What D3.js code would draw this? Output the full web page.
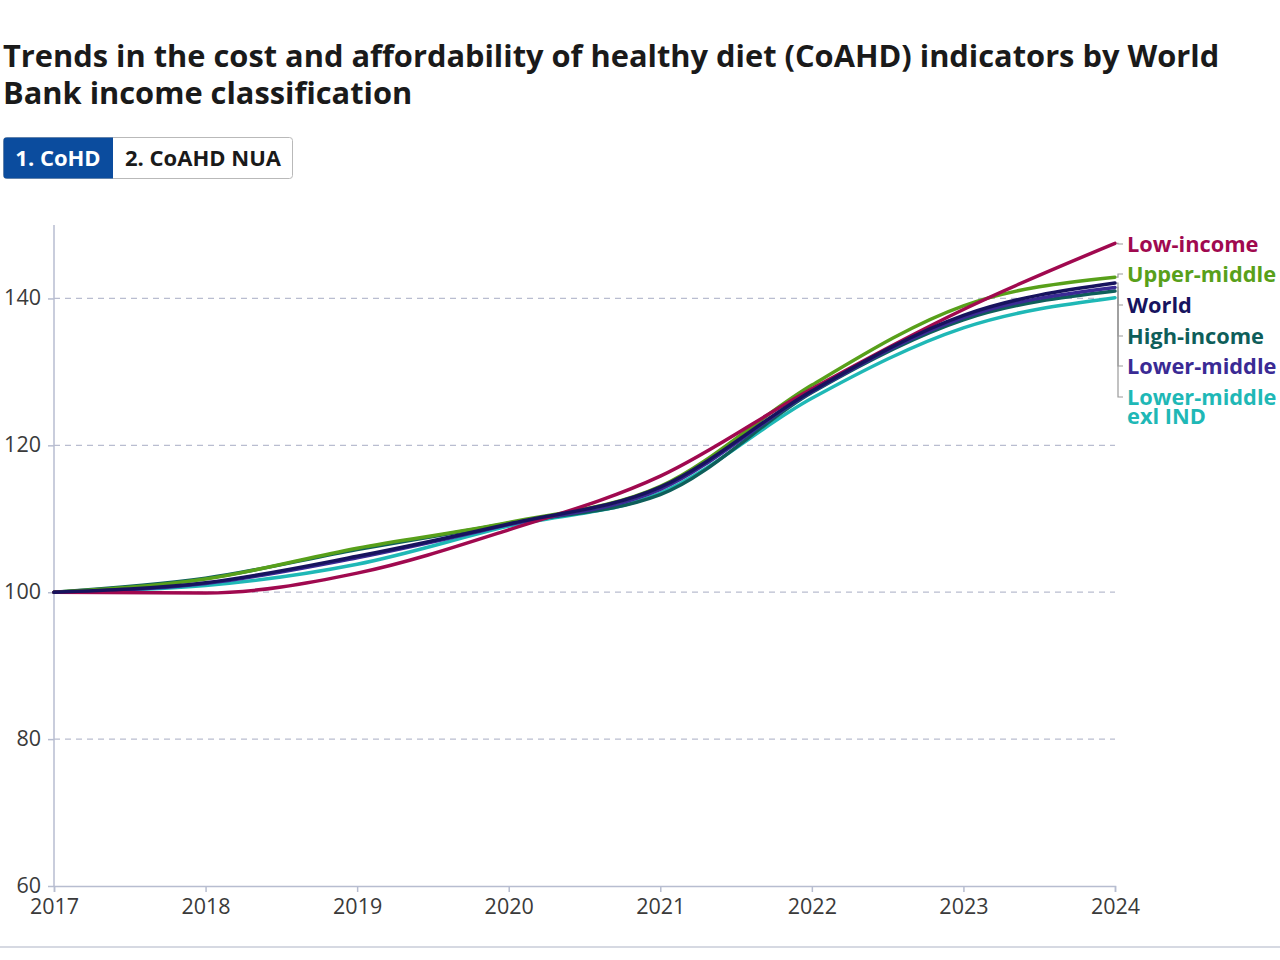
<!DOCTYPE html>
<html>
<head>
<meta charset="utf-8">
<script src="https://cdn.jsdelivr.net/npm/d3@7"></script>
<style>
  body { margin: 0; background: #fff; font-family: "Open Sans", sans-serif; }
</style>
</head>
<body>
<div id="chart"></div>
<script>
// data
const years = [2017, 2018, 2019, 2020, 2021, 2022, 2023, 2024];
const lowIncome      = [100, 99.9, 102.6, 108.5, 115.8, 127.7, 138.5, 147.5];
const upperMiddle    = [100, 101.8, 106.0, 109.5, 114.4, 128.2, 139.0, 142.9];
const world          = [100, 101.3, 104.9, 109.3, 114.3, 127.4, 137.7, 142.1];
const highIncome     = [100, 101.9, 105.8, 109.4, 113.3, 127.2, 137.1, 141.0];
const lowerMiddle    = [100, 101.2, 104.7, 109.2, 114.0, 127.3, 137.4, 141.5];
const lowerMiddleExl = [100, 100.9, 103.8, 109.0, 113.5, 126.4, 136.0, 140.1];
const yTicks = [60, 80, 100, 120, 140];
const buttonLabels = ["1. CoHD", "2. CoAHD NUA"];

const series = [
  { name: ["Lower-middle", "exl IND"], values: lowerMiddleExl, color: "#1fb8b6", labelY: 397 },
  { name: ["High-income"], values: highIncome, color: "#0e5e5a", labelY: 336 },
  { name: ["Lower-middle"], values: lowerMiddle, color: "#3a2a94", labelY: 366 },
  { name: ["Upper-middle"], values: upperMiddle, color: "#58a01a", labelY: 274 },
  { name: ["Low-income"], values: lowIncome, color: "#a0094f", labelY: 244 },
  { name: ["World"], values: world, color: "#17135e", labelY: 305 }
];

const width = 1280, height = 960;
const margin = { left: 54, right: 165, top: 225, bottom: 74 };

const svg = d3.select("#chart").append("svg")
  .attr("width", width).attr("height", height);

// title
const title = svg.append("text")
  .attr("x", 3).attr("y", 67)
  .attr("font-size", 30.8).attr("font-weight", 700).attr("fill", "#1a1a1a");
title.append("tspan").attr("x", 3).text("Trends in the cost and affordability of healthy diet (CoAHD) indicators by World");
title.append("tspan").attr("x", 3).attr("dy", 37).text("Bank income classification");

// toggle buttons
const btnG = svg.append("g").attr("transform", "translate(3,137)");
btnG.append("rect").attr("x", 0.5).attr("y", 0.5).attr("width", 289).attr("height", 41)
  .attr("rx", 3).attr("fill", "#fff").attr("stroke", "#b9b9b9");
btnG.append("path")
  .attr("d", "M3.5,0.5 H110 V41.5 H3.5 A3,3 0 0 1 0.5,38.5 V3.5 A3,3 0 0 1 3.5,0.5 Z")
  .attr("fill", "#0b4c9e");
btnG.append("text").attr("x", 55).attr("y", 29).attr("text-anchor", "middle")
  .attr("font-size", 22).attr("font-weight", 700).attr("fill", "#fff").text(buttonLabels[0]);
btnG.append("text").attr("x", 200).attr("y", 29).attr("text-anchor", "middle")
  .attr("font-size", 22).attr("font-weight", 700).attr("fill", "#1a1a1a").text(buttonLabels[1]);

const x = d3.scaleLinear().domain([2017, 2024]).range([margin.left, width - margin.right]);
const y = d3.scaleLinear().domain([60, 150]).range([height - margin.bottom, margin.top]);

// gridlines
svg.append("g").selectAll("line")
  .data(yTicks.filter(d => d > 60))
  .join("line")
  .attr("x1", x(2017)).attr("x2", x(2024))
  .attr("y1", d => y(d)).attr("y2", d => y(d))
  .attr("stroke", "#b9bdd0").attr("stroke-width", 1.3).attr("stroke-dasharray", "6,5");

// axes
const yAxis = svg.append("g").attr("transform", `translate(${x(2017)},0)`)
  .call(d3.axisLeft(y).tickValues(yTicks).tickSize(6).tickPadding(7));
const xAxis = svg.append("g").attr("transform", `translate(0,${y(60)})`)
  .call(d3.axisBottom(x).tickValues(years).tickFormat(d3.format("d")).tickSize(6).tickPadding(4));
[yAxis, xAxis].forEach(a => {
  a.select(".domain").attr("stroke", "#b7bdd0").attr("stroke-width", 1.5);
  a.selectAll(".tick line").attr("stroke", "#b7bdd0").attr("stroke-width", 1.5);
  a.selectAll("text").attr("font-size", 21.5).attr("fill", "#3a3a3a")
    .attr("font-family", "Open Sans, sans-serif");
});
yAxis.select(".domain").attr("d", `M0,${y(150)}V${y(60)}`);
xAxis.selectAll(".tick text").attr("dy", "0.82em");
yAxis.selectAll(".tick text").attr("dy", "0.28em");

// lines
const line = d3.line()
  .x((d, i) => x(years[i]))
  .y(d => y(d))
  .curve(d3.curveMonotoneX);

svg.append("g").selectAll("path")
  .data(series)
  .join("path")
  .attr("d", d => line(d.values))
  .attr("fill", "none")
  .attr("stroke", d => d.color)
  .attr("stroke-width", 3.5)
  .attr("stroke-linecap", "round");

// label connectors + labels
const xEnd = x(2024);
const labG = svg.append("g");
labG.selectAll("path")
  .data(series)
  .join("path")
  .attr("d", d => `M${xEnd + 2},${y(d.values[d.values.length - 1])}H${xEnd + 3}V${d.labelY}H${xEnd + 8}`)
  .attr("fill", "none").attr("stroke", "#9a9a9a").attr("stroke-width", 1.2);

labG.selectAll("text")
  .data(series)
  .join("text")
  .attr("x", xEnd + 12)
  .attr("y", d => d.labelY)
  .attr("font-size", 21.8).attr("font-weight", 700)
  .attr("fill", d => d.color)
  .each(function (d) {
    const t = d3.select(this);
    d.name.forEach((n, i) => {
      t.append("tspan").attr("x", xEnd + 12).attr("dy", i === 0 ? "0.35em" : "0.88em").text(n);
    });
  });

// bottom rule
svg.append("line").attr("x1", 0).attr("x2", width).attr("y1", 947).attr("y2", 947)
  .attr("stroke", "#c9ccd8").attr("stroke-width", 1.5);
</script>
</body>
</html>
